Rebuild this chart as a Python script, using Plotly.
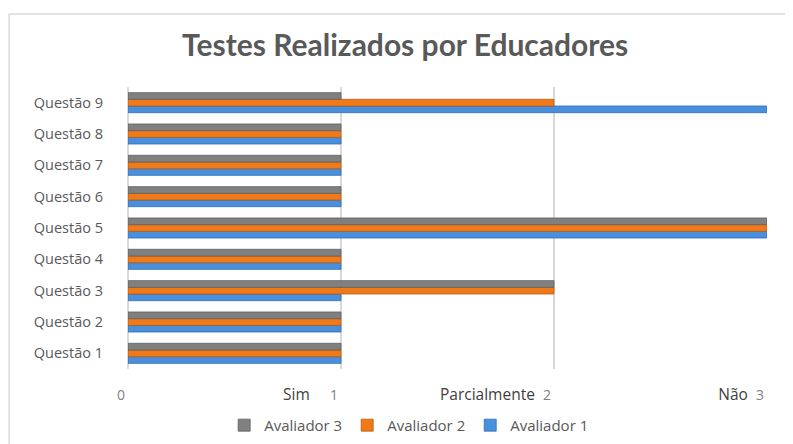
import plotly.graph_objects as go

questoes = ["Questão 1", "Questão 2", "Questão 3", "Questão 4", "Questão 5",
            "Questão 6", "Questão 7", "Questão 8", "Questão 9"]
avaliador1 = [1, 1, 1, 1, 3, 1, 1, 1, 3]
avaliador2 = [1, 1, 2, 1, 3, 1, 1, 1, 2]
avaliador3 = [1, 1, 2, 1, 3, 1, 1, 1, 1]
tick_vals = [0, 1, 2, 3]
tick_words = ["", "Sim", "Parcialmente", "Não"]
word_gaps = [0, 5, 2, 2]

series = [
    ("Avaliador 1", avaliador1, "#4a8fdb", "#2f6fb5"),
    ("Avaliador 2", avaliador2, "#f07a1a", "#b85a10"),
    ("Avaliador 3", avaliador3, "#808080", "#5e5e5e"),
]

fig = go.Figure()
for name, vals, col, edge in series:
    fig.add_trace(go.Bar(
        y=questoes, x=vals, name=name, orientation="h",
        marker=dict(color=col, line=dict(color=edge, width=0.8)),
    ))

ticktext = []
for v, w, g in zip(tick_vals, tick_words, word_gaps):
    num = f"<span style='color:#7f7f7f;font-size:14px'>{v}</span>"
    if w:
        ticktext.append(f"<span style='color:#404040'>{w}</span>" + "&nbsp;" * g + num)
    else:
        ticktext.append(num)

fig.update_layout(
    width=785, height=436,
    margin=dict(l=120, r=26, t=79, b=75, autoexpand=False),
    paper_bgcolor="white", plot_bgcolor="white",
    barmode="group", bargap=0.36, bargroupgap=0.0,
    font=dict(family="Open Sans", size=14, color="#595959"),
    title=dict(text="<b>Testes Realizados por Educadores</b>",
               font=dict(family="Lato", size=30, color="#595959"),
               x=0.506, xanchor="center", y=0.915, yanchor="middle"),
    xaxis=dict(range=[0, 3], tickvals=tick_vals, ticktext=ticktext,
               showgrid=True, gridcolor="#d9d9d9", gridwidth=1.5,
               zeroline=True, zerolinecolor="#d9d9d9", zerolinewidth=1.5,
               ticks="", ticklabelposition="outside left", ticklabelshift=-3,
               ticklabelstandoff=14, automargin=False,
               tickfont=dict(family="Open Sans", size=15.5, color="#7f7f7f"),
               fixedrange=True),
    yaxis=dict(showgrid=False, ticks="", ticklabelstandoff=24, automargin=False,
               tickfont=dict(family="Open Sans", size=14.5, color="#595959")),
    legend=dict(orientation="h", x=0.44, xanchor="center", y=-0.2, yanchor="middle",
                traceorder="reversed", font=dict(size=15, color="#595959"),
                itemwidth=30),
    showlegend=True,
    shapes=[dict(type="rect", xref="paper", yref="paper",
                 x0=-0.186, x1=1.2, y0=-0.4, y1=1.259,
                 line=dict(color="#d9d9d9", width=1.5), layer="below")],
)

fig.write_html("out.html")
